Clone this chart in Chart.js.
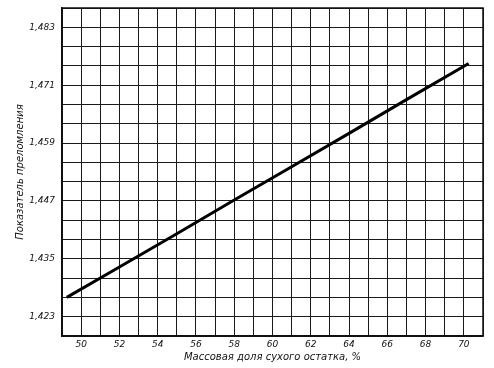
<!DOCTYPE html>
<html>
<head>
<meta charset="utf-8">
<script src="https://cdn.jsdelivr.net/npm/chart.js@4"></script>
<style>
  html, body { margin: 0; padding: 0; background: #fff; }
  #wrap { width: 494px; height: 368px; }
</style>
</head>
<body>
<div id="wrap"><canvas id="chart"></canvas></div>
<script>
// data
const dryMatter = [49.25, 52, 55, 58, 61, 64, 67, 70.25];
const refrIndex = [1.427, 1.4333, 1.4402, 1.4472, 1.4541, 1.4610, 1.4680, 1.4755];

const xTickValues = [50, 52, 54, 56, 58, 60, 62, 64, 66, 68, 70];
const xTickLabels = ['50', '52', '54', '56', '58', '60', '62', '64', '66', '68', '70'];
const yTickValues = [1.423, 1.435, 1.447, 1.459, 1.471, 1.483];
const yTickLabels = ['1,423', '1,435', '1,447', '1,459', '1,471', '1,483'];

const points = dryMatter.map((x, i) => ({ x: x, y: refrIndex[i] }));

function pickLabel(values, labels, v) {
  const i = values.findIndex(t => Math.abs(t - v) < 1e-6);
  return i >= 0 ? labels[i] : '';
}

const tickFont = { family: 'DejaVu Sans', size: 9, style: 'italic' };
const titleFont = { family: 'DejaVu Sans', size: 10, style: 'italic' };

const ctx = document.getElementById('chart').getContext('2d');
new Chart(ctx, {
  type: 'scatter',
  data: {
    datasets: [{
      data: points,
      showLine: true,
      borderColor: '#000',
      borderWidth: 3,
      pointRadius: 0,
      fill: false
    }]
  },
  options: {
    responsive: true,
    maintainAspectRatio: false,
    animation: false,
    layout: { padding: { top: 8, right: 11, left: 0, bottom: 0 } },
    plugins: { legend: { display: false }, tooltip: { enabled: false } },
    scales: {
      x: {
        type: 'linear',
        min: 49,
        max: 71,
        afterFit: s => { s.height = 32; s.paddingLeft = 0; s.paddingRight = 0; },
        ticks: {
          stepSize: 1,
          autoSkip: false,
          maxRotation: 0,
          padding: 3,
          color: '#111',
          font: tickFont,
          callback: v => pickLabel(xTickValues, xTickLabels, v)
        },
        grid: { color: '#1a1a1a', lineWidth: 1, drawTicks: false },
        border: { color: '#111', width: 1.5 },
        title: {
          display: true,
          text: 'Массовая доля сухого остатка, %',
          color: '#111',
          font: titleFont,
          padding: { top: 0, bottom: 5 }
        }
      },
      y: {
        type: 'linear',
        min: 1.419,
        max: 1.487,
        afterFit: s => { s.width = 62; s.paddingTop = 0; s.paddingBottom = 0; },
        ticks: {
          stepSize: 0.004,
          autoSkip: false,
          padding: 7,
          color: '#111',
          font: tickFont,
          callback: v => pickLabel(yTickValues, yTickLabels, v)
        },
        grid: { color: '#1a1a1a', lineWidth: 1, drawTicks: false },
        border: { color: '#111', width: 1.5 },
        title: {
          display: true,
          text: 'Показатель преломления',
          color: '#111',
          font: titleFont,
          padding: { top: 14, bottom: 0 }
        }
      }
    }
  },
  plugins: [{
    id: 'frame',
    afterDraw(chart) {
      const a = chart.chartArea;
      const c = chart.ctx;
      c.save();
      c.strokeStyle = '#111';
      c.lineWidth = 1.5;
      c.strokeRect(a.left, a.top, a.right - a.left, a.bottom - a.top);
      c.restore();
    }
  }]
});
</script>
</body>
</html>
